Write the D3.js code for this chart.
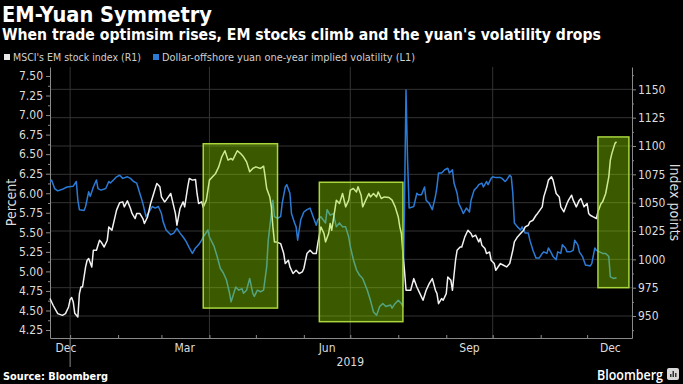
<!DOCTYPE html>
<html>
<head>
<meta charset="utf-8">
<script src="https://cdn.jsdelivr.net/npm/d3@7"></script>
<style>
  body { margin: 0; background: #000; }
  svg { display: block; }
  .axis text { font-family: "DejaVu Sans Condensed", sans-serif; font-size: 12px; fill: #dcdcdc; }
  .axis path, .axis line { stroke: #8a8a8a; }
</style>
</head>
<body>
<svg id="chart" width="683" height="384"></svg>
<script>
// MSCI EM stock index (right axis, index points)
const emDates = ["2018-12-19","2018-12-21","2018-12-24","2018-12-27","2018-12-29","2018-12-31",
  "2019-01-01","2019-01-02","2019-01-03","2019-01-04","2019-01-06","2019-01-07","2019-01-08","2019-01-09","2019-01-11","2019-01-12","2019-01-13","2019-01-15","2019-01-16","2019-01-18","2019-01-20","2019-01-21","2019-01-23","2019-01-25","2019-01-26","2019-01-28","2019-01-30","2019-01-31",
  "2019-02-02","2019-02-04","2019-02-05","2019-02-07","2019-02-09","2019-02-10","2019-02-12","2019-02-13","2019-02-15","2019-02-17","2019-02-18","2019-02-20","2019-02-22","2019-02-24","2019-02-26","2019-02-28",
  "2019-03-01","2019-03-03","2019-03-04","2019-03-07","2019-03-08","2019-03-10","2019-03-11","2019-03-12","2019-03-13","2019-03-15","2019-03-16","2019-03-18","2019-03-19","2019-03-21","2019-03-23","2019-03-24","2019-03-25","2019-03-27","2019-03-28","2019-03-30",
  "2019-04-01","2019-04-03","2019-04-05","2019-04-07","2019-04-09","2019-04-11","2019-04-13","2019-04-15","2019-04-16","2019-04-19","2019-04-21","2019-04-23","2019-04-25","2019-04-27","2019-04-29",
  "2019-05-01","2019-05-04","2019-05-06","2019-05-07","2019-05-08","2019-05-10","2019-05-11","2019-05-12","2019-05-13","2019-05-14","2019-05-17","2019-05-19","2019-05-20","2019-05-22","2019-05-23","2019-05-25","2019-05-27","2019-05-29","2019-05-31",
  "2019-06-01","2019-06-03","2019-06-05","2019-06-07","2019-06-09","2019-06-10","2019-06-12","2019-06-14","2019-06-15","2019-06-17","2019-06-18","2019-06-19","2019-06-20","2019-06-22","2019-06-24","2019-06-26","2019-06-28","2019-06-30",
  "2019-07-01","2019-07-03","2019-07-05","2019-07-06","2019-07-08","2019-07-09","2019-07-11","2019-07-13","2019-07-14","2019-07-16","2019-07-18","2019-07-19","2019-07-21","2019-07-23","2019-07-26","2019-07-28","2019-07-30",
  "2019-08-01","2019-08-02","2019-08-03","2019-08-04","2019-08-05","2019-08-06","2019-08-09","2019-08-11","2019-08-13","2019-08-15","2019-08-17","2019-08-19","2019-08-21","2019-08-23","2019-08-25","2019-08-26","2019-08-27","2019-08-29","2019-08-30",
  "2019-09-01","2019-09-02","2019-09-04","2019-09-05","2019-09-07","2019-09-08","2019-09-10","2019-09-11","2019-09-13","2019-09-15","2019-09-17","2019-09-18","2019-09-20","2019-09-22","2019-09-23","2019-09-24","2019-09-26","2019-09-27","2019-09-29","2019-09-30",
  "2019-10-02","2019-10-03","2019-10-06","2019-10-08","2019-10-10","2019-10-12","2019-10-14","2019-10-15","2019-10-17","2019-10-19","2019-10-21","2019-10-22","2019-10-24","2019-10-25","2019-10-27","2019-10-29","2019-10-30",
  "2019-11-02","2019-11-03","2019-11-05","2019-11-06","2019-11-08","2019-11-09","2019-11-11","2019-11-13","2019-11-14","2019-11-16","2019-11-18","2019-11-19","2019-11-21","2019-11-22","2019-11-24","2019-11-26","2019-11-27","2019-11-29",
  "2019-12-01","2019-12-02","2019-12-03","2019-12-05","2019-12-07","2019-12-08","2019-12-10","2019-12-11","2019-12-13","2019-12-15","2019-12-16","2019-12-17","2019-12-19","2019-12-20"];
const emValues = [965.4,959.5,952.1,950.6,952.1,958.0,
  964.5,966.3,962.4,952.4,949.1,969.8,975.6,975.6,993.3,999.2,1000.7,993.3,1008.0,1008.0,1016.9,1015.4,1010.9,1016.9,1028.6,1025.7,1037.4,1043.4,
  1050.0,1050.7,1046.3,1051.6,1044.9,1040.5,1036.0,1040.5,1040.5,1036.0,1031.6,1037.4,1049.3,1058.1,1067.0,1064.0,
  1055.1,1050.7,1052.2,1058.1,1052.2,1040.5,1030.1,1037.4,1044.9,1050.7,1046.3,1064.0,1071.4,1069.9,1070.5,1058.1,1049.3,1050.7,1046.0,1052.2,
  1069.9,1072.8,1075.8,1081.6,1090.5,1095.8,1087.6,1089.0,1087.6,1095.8,1093.5,1090.5,1086.0,1077.2,1080.2,
  1081.6,1080.2,1082.2,1072.8,1062.5,1055.1,1046.3,1028.6,1015.4,1015.4,1013.9,1005.1,996.3,999.2,993.3,987.5,990.4,987.5,988.9,
  991.9,1005.1,1008.0,1005.1,1005.1,1013.9,1028.6,1022.8,1015.4,1022.8,1031.6,1025.7,1034.5,1052.2,1049.3,1058.1,1046.3,1052.2,
  1061.0,1062.5,1059.5,1064.0,1056.6,1046.3,1052.2,1058.1,1055.1,1058.1,1055.1,1059.5,1053.7,1055.1,1054.6,1052.2,1046.3,
  1037.4,1028.6,1022.8,1005.1,990.4,972.7,972.7,983.0,975.6,969.8,963.9,972.7,978.6,983.0,972.7,969.8,960.9,965.4,963.9,
  969.8,984.5,981.5,972.7,999.2,1008.0,1010.9,1010.9,1019.8,1025.7,1022.8,1019.8,1021.3,1015.4,1018.4,1012.5,1009.5,1005.1,1006.5,999.2,
  996.3,990.4,996.3,994.8,993.3,996.3,1008.0,1015.4,1019.8,1022.8,1025.7,1028.6,1030.1,1033.0,1034.5,1038.9,1040.5,
  1046.3,1055.1,1064.0,1069.9,1072.8,1069.9,1058.1,1055.1,1046.3,1041.9,1049.3,1052.2,1056.6,1052.2,1046.3,1052.2,1053.7,1046.3,
  1049.3,1040.5,1038.9,1037.4,1036.0,1041.9,1049.3,1050.7,1058.1,1072.8,1087.6,1093.5,1102.3,1103.7];

// Dollar-offshore yuan one-year implied volatility (left axis, percent)
const cnhDates = ["2018-12-19","2018-12-20","2018-12-22","2018-12-24","2018-12-27","2018-12-30",
  "2019-01-03","2019-01-05","2019-01-06","2019-01-07","2019-01-10","2019-01-11","2019-01-13","2019-01-14","2019-01-16","2019-01-18","2019-01-19","2019-01-21","2019-01-24","2019-01-26","2019-01-27","2019-01-29","2019-01-31",
  "2019-02-02","2019-02-04","2019-02-07","2019-02-09","2019-02-11","2019-02-13","2019-02-15","2019-02-17","2019-02-19","2019-02-21","2019-02-23","2019-02-25","2019-02-27",
  "2019-03-01","2019-03-02","2019-03-04","2019-03-07","2019-03-09","2019-03-11","2019-03-13","2019-03-15","2019-03-17","2019-03-19","2019-03-21","2019-03-23","2019-03-25","2019-03-27","2019-03-28","2019-03-31",
  "2019-04-01","2019-04-04","2019-04-06","2019-04-08","2019-04-10","2019-04-12","2019-04-14","2019-04-15","2019-04-18","2019-04-20","2019-04-22","2019-04-23","2019-04-25","2019-04-27","2019-04-29","2019-04-30",
  "2019-05-02","2019-05-04","2019-05-06","2019-05-08","2019-05-09","2019-05-11","2019-05-12","2019-05-13","2019-05-15","2019-05-17","2019-05-18","2019-05-20","2019-05-21","2019-05-23","2019-05-24","2019-05-26","2019-05-27","2019-05-28","2019-05-30",
  "2019-06-01","2019-06-03","2019-06-05","2019-06-07","2019-06-09","2019-06-10","2019-06-12","2019-06-15","2019-06-16","2019-06-18","2019-06-20","2019-06-22","2019-06-24","2019-06-26","2019-06-28","2019-06-30",
  "2019-07-01","2019-07-03","2019-07-05","2019-07-07","2019-07-09","2019-07-12","2019-07-14","2019-07-16","2019-07-18","2019-07-20","2019-07-22","2019-07-24","2019-07-27","2019-07-28","2019-07-30",
  "2019-08-01","2019-08-03","2019-08-04","2019-08-05","2019-08-06","2019-08-07","2019-08-08","2019-08-11","2019-08-13","2019-08-14","2019-08-16","2019-08-18","2019-08-19","2019-08-21","2019-08-23","2019-08-25","2019-08-26","2019-08-27","2019-08-29","2019-08-31",
  "2019-09-02","2019-09-03","2019-09-05","2019-09-06","2019-09-08","2019-09-09","2019-09-11","2019-09-12","2019-09-14","2019-09-16","2019-09-17","2019-09-19","2019-09-21","2019-09-22","2019-09-24","2019-09-25","2019-09-27","2019-09-28","2019-09-30",
  "2019-10-01","2019-10-03","2019-10-06","2019-10-07","2019-10-09","2019-10-10","2019-10-12","2019-10-13","2019-10-14","2019-10-15","2019-10-17","2019-10-19","2019-10-20","2019-10-22","2019-10-24","2019-10-25","2019-10-27","2019-10-29","2019-10-31",
  "2019-11-02","2019-11-03","2019-11-05","2019-11-06","2019-11-08","2019-11-09","2019-11-11","2019-11-12","2019-11-14","2019-11-15","2019-11-17","2019-11-18","2019-11-20","2019-11-22","2019-11-23","2019-11-25","2019-11-26","2019-11-28","2019-11-30",
  "2019-12-01","2019-12-03","2019-12-04","2019-12-06","2019-12-07","2019-12-09","2019-12-11","2019-12-13","2019-12-15","2019-12-16","2019-12-18","2019-12-20"];
const cnhValues = [6.15,6.17,6.06,6.03,6.05,6.08,
  6.09,6.15,5.91,5.79,5.78,5.83,6.02,5.96,6.08,6.17,6.06,6.04,6.06,6.15,6.13,6.17,6.21,
  6.23,6.19,6.21,6.19,6.15,6.13,6.00,5.87,5.70,5.76,5.83,5.81,5.83,
  5.74,5.64,5.53,5.47,5.49,5.55,5.49,5.44,5.38,5.30,5.23,5.30,5.34,5.40,5.44,5.53,
  5.44,5.32,5.19,5.04,4.98,4.89,4.72,4.61,4.80,4.76,4.78,4.72,4.76,4.91,4.72,4.68,
  4.76,4.74,4.76,5.06,5.40,5.74,5.91,5.70,5.68,5.70,5.87,6.08,6.11,6.00,5.74,5.62,5.57,5.40,5.66,
  5.76,5.79,5.81,5.70,5.59,5.66,5.70,5.62,5.79,5.72,5.74,5.57,5.62,5.57,5.57,5.44,
  5.32,5.15,5.02,4.95,4.91,4.76,4.63,4.48,4.44,4.55,4.59,4.55,4.57,4.53,4.59,
  4.63,4.59,4.55,5.83,7.32,6.43,5.81,5.83,6.00,5.98,5.98,6.08,5.91,5.87,5.79,5.96,6.08,6.26,6.26,6.30,
  6.32,6.26,6.30,6.13,6.00,5.87,5.79,5.74,5.81,5.76,5.91,6.04,6.08,6.11,6.13,6.08,6.15,6.11,6.19,
  6.21,6.20,6.20,6.19,6.15,6.17,6.23,6.21,6.00,5.62,5.57,5.53,5.57,5.49,5.49,5.40,5.27,5.17,5.17,
  5.23,5.25,5.23,5.30,5.23,5.19,5.15,5.25,5.23,5.34,5.30,5.25,5.25,5.27,5.40,5.34,5.25,5.19,5.08,
  5.08,5.07,5.10,5.30,5.27,5.25,5.23,5.23,5.19,4.93,4.91,4.92];

// axis ticks
const leftTicks = [4.25,4.50,4.75,5.00,5.25,5.50,5.75,6.00,6.25,6.50,6.75,7.00,7.25,7.50];
const rightTicks = [950,975,1000,1025,1050,1075,1100,1125,1150];
const monthLabels = ["Dec","Mar","Jun","Sep","Dec"];
const monthLabelStarts = ["2018-12-01","2019-03-01","2019-06-01","2019-09-01","2019-12-01"];

// highlighted periods (dates, and index-point range on the right axis)
const boxStarts = ["2019-03-28","2019-06-11","2019-12-08"];
const boxEnds = ["2019-05-15","2019-08-04","2019-12-28"];
const boxLows = [957,945,975];
const boxHighs = [1102,1068,1108];

const parse = d3.timeParse("%Y-%m-%d");
const svg = d3.select("#chart");
const plotLeft = 50, plotRight = 632, plotTop = 67, plotBottom = 338;

const x = d3.scaleTime()
  .domain([parse("2018-12-19"), parse("2019-12-30")])
  .range([plotLeft, plotRight]);
const yL = d3.scaleLinear().domain([4.148, 7.615]).range([plotBottom, plotTop]);
const yR = d3.scaleLinear().domain([930.6, 1169.7]).range([plotBottom, plotTop]);

const em = emDates.map((d, i) => ({ date: parse(d), value: emValues[i] }));
const cnh = cnhDates.map((d, i) => ({ date: parse(d), value: cnhValues[i] }));

// title block
svg.append("text").attr("x", 2).attr("y", 22)
  .attr("textLength", 210).attr("lengthAdjust", "spacingAndGlyphs")
  .style("font-family", "'DejaVu Sans', sans-serif").style("font-weight", "bold")
  .style("font-size", "21px").style("fill", "#fff")
  .text("EM-Yuan Symmetry");
svg.append("text").attr("x", 2).attr("y", 40)
  .attr("textLength", 599).attr("lengthAdjust", "spacingAndGlyphs")
  .style("font-family", "'DejaVu Sans', sans-serif").style("font-weight", "bold")
  .style("font-size", "15px").style("fill", "#fff")
  .text("When trade optimsim rises, EM stocks climb and the yuan's volatility drops");

// legend
const legend = [
  { label: "MSCI's EM stock index (R1)", color: "#e8e8e8", x: 4, w: 128 },
  { label: "Dollar-offshore yuan one-year implied volatility (L1)", color: "#2b7bd6", x: 153, w: 253 }
];
legend.forEach(l => {
  svg.append("rect").attr("x", l.x).attr("y", 54).attr("width", 6).attr("height", 6).attr("fill", l.color);
  svg.append("text").attr("x", l.x + 9).attr("y", 61)
    .attr("textLength", l.w).attr("lengthAdjust", "spacingAndGlyphs")
    .style("font-family", "'DejaVu Sans Condensed', sans-serif")
    .style("font-size", "10.5px").style("fill", "#cfcfcf")
    .text(l.label);
});

// gridlines
const grid = svg.append("g").attr("class", "grid");
grid.selectAll("line.h").data(rightTicks).enter().append("line")
  .attr("x1", plotLeft).attr("x2", plotRight)
  .attr("y1", d => yR(d)).attr("y2", d => yR(d))
  .attr("stroke", "#333").attr("stroke-width", 1);
const quarters = d3.timeMonth.every(3).range(parse("2019-01-01"), x.domain()[1]);
grid.selectAll("line.v").data(quarters).enter().append("line")
  .attr("x1", d => x(d)).attr("x2", d => x(d))
  .attr("y1", plotTop).attr("y2", plotBottom)
  .attr("stroke", "#333").attr("stroke-width", 1);

// axes
svg.append("g").attr("class", "axis")
  .attr("transform", "translate(" + plotLeft + ",0)")
  .call(d3.axisLeft(yL).tickValues(leftTicks).tickSize(4).tickSizeOuter(0).tickPadding(3).tickFormat(d3.format(".2f")));
svg.append("g").attr("class", "axis")
  .attr("transform", "translate(" + plotLeft + ",0)")
  .call(d3.axisLeft(yL).tickValues(leftTicks.map(d => d + 0.125).filter(d => d < 7.6)).tickSize(2).tickSizeOuter(0).tickFormat(""))
  .select(".domain").remove();

svg.append("g").attr("class", "axis")
  .attr("transform", "translate(" + plotRight + ",0)")
  .call(d3.axisRight(yR).tickValues(rightTicks).tickSize(4).tickSizeOuter(0).tickPadding(2).tickFormat(d3.format("d")));
svg.append("g").attr("class", "axis")
  .attr("transform", "translate(" + plotRight + ",0)")
  .call(d3.axisRight(yR).tickValues(rightTicks.map(d => d - 12.5).concat([1162.5])).tickSize(2).tickSizeOuter(0).tickFormat(""))
  .select(".domain").remove();

const months = d3.timeMonth.range(parse("2019-01-01"), x.domain()[1]);
svg.append("g").attr("class", "axis")
  .attr("transform", "translate(0," + plotBottom + ")")
  .call(d3.axisBottom(x).tickValues(months).tickSizeInner(-3).tickSizeOuter(0).tickFormat(""));

// month labels at mid-month
const xAxisLabels = svg.append("g").attr("class", "axis");
monthLabelStarts.forEach((m, i) => {
  const mid = d3.timeDay.offset(parse(m), 15);
  const px = Math.max(x(mid), plotLeft + 16);
  xAxisLabels.append("text").attr("x", px).attr("y", 352)
    .attr("text-anchor", "middle").text(monthLabels[i]);
});
xAxisLabels.append("text").attr("x", x(parse("2019-07-01"))).attr("y", 366)
  .attr("text-anchor", "middle").text("2019");
svg.append("line")
  .attr("x1", x(parse("2019-01-01"))).attr("x2", x(parse("2019-01-01")))
  .attr("y1", plotBottom).attr("y2", 367)
  .attr("stroke", "#8a8a8a");

// axis titles
svg.append("text")
  .attr("transform", "translate(16," + ((plotTop + plotBottom) / 2) + ") rotate(-90)")
  .attr("text-anchor", "middle")
  .style("font-family", "'DejaVu Sans Condensed', sans-serif").style("font-size", "14px").style("fill", "#dcdcdc")
  .text("Percent");
svg.append("text")
  .attr("transform", "translate(670," + ((plotTop + plotBottom) / 2) + ") rotate(90)")
  .attr("text-anchor", "middle")
  .style("font-family", "'DejaVu Sans Condensed', sans-serif").style("font-size", "14px").style("fill", "#dcdcdc")
  .text("Index points");

// lines
const emLine = d3.line().x(d => x(d.date)).y(d => yR(d.value));
const cnhLine = d3.line().x(d => x(d.date)).y(d => yL(d.value));
svg.append("path").datum(cnh).attr("d", cnhLine)
  .attr("fill", "none").attr("stroke", "#2b7bd6").attr("stroke-width", 1.5).attr("stroke-linejoin", "round");
svg.append("path").datum(em).attr("d", emLine)
  .attr("fill", "none").attr("stroke", "#f2f2f2").attr("stroke-width", 1.5).attr("stroke-linejoin", "round");

// highlight boxes
boxStarts.forEach((s, i) => {
  const x0 = x(parse(s)), x1 = x(parse(boxEnds[i]));
  const y0 = yR(boxHighs[i]), y1 = yR(boxLows[i]);
  svg.append("rect")
    .attr("x", x0).attr("y", y0).attr("width", x1 - x0).attr("height", y1 - y0)
    .attr("fill", "#94e100").attr("fill-opacity", 0.4)
    .attr("stroke", "#a8d63c").attr("stroke-width", 1.5);
});

// footer
svg.append("text").attr("x", 3).attr("y", 380)
  .attr("textLength", 105).attr("lengthAdjust", "spacingAndGlyphs")
  .style("font-family", "'DejaVu Sans', sans-serif").style("font-weight", "bold")
  .style("font-size", "11px").style("fill", "#fff")
  .text("Source: Bloomberg");
svg.append("text").attr("x", 597).attr("y", 380)
  .attr("textLength", 66).attr("lengthAdjust", "spacingAndGlyphs")
  .style("font-family", "'Open Sans', sans-serif").style("font-weight", "600")
  .style("font-size", "14px").style("fill", "#fff")
  .text("Bloomberg");
const logo = svg.append("g").attr("transform", "translate(667,368)");
logo.append("rect").attr("width", 12).attr("height", 12).attr("rx", 2).attr("fill", "#d8d8d8");
[[3, 6], [5.5, 3], [8, 5]].forEach(b => {
  logo.append("rect").attr("x", b[0]).attr("y", b[1]).attr("width", 1.5).attr("height", 9 - b[1]).attr("fill", "#333");
});
</script>
</body>
</html>
